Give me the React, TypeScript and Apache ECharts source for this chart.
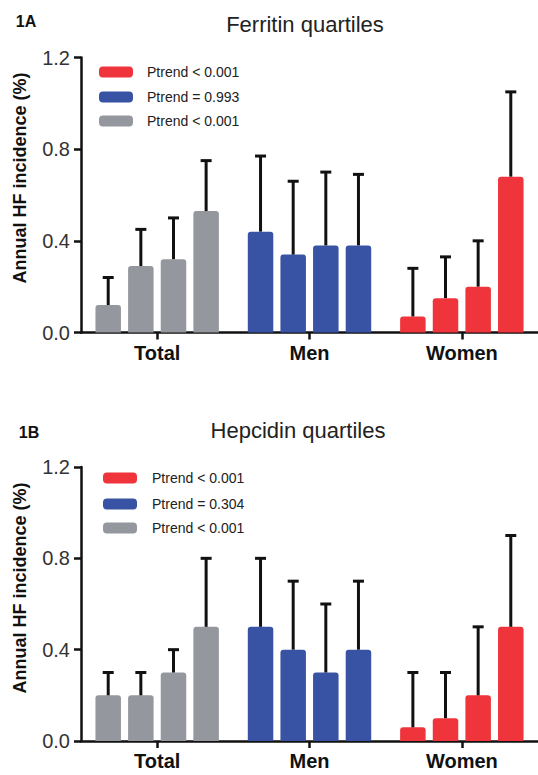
import React, { useEffect, useRef } from "react";
import * as echarts from "echarts";

const categories = ["Total", "Men", "Women"];
const yTicks = [0, 0.4, 0.8, 1.2];

// Ferritin quartiles (Q1..Q4) per group
const ferritinTotal = [0.12, 0.29, 0.32, 0.53];
const ferritinMen = [0.44, 0.34, 0.38, 0.38];
const ferritinWomen = [0.07, 0.15, 0.2, 0.68];
const ferritinTotalUpper = [0.24, 0.45, 0.5, 0.75];
const ferritinMenUpper = [0.77, 0.66, 0.7, 0.69];
const ferritinWomenUpper = [0.28, 0.33, 0.4, 1.05];

// Hepcidin quartiles (Q1..Q4) per group
const hepcidinTotal = [0.2, 0.2, 0.3, 0.5];
const hepcidinMen = [0.5, 0.4, 0.3, 0.4];
const hepcidinWomen = [0.06, 0.1, 0.2, 0.5];
const hepcidinTotalUpper = [0.3, 0.3, 0.4, 0.8];
const hepcidinMenUpper = [0.8, 0.7, 0.6, 0.7];
const hepcidinWomenUpper = [0.3, 0.3, 0.5, 0.9];

const ferritinLegend = ["Ptrend < 0.001", "Ptrend = 0.993", "Ptrend < 0.001"];
const hepcidinLegend = ["Ptrend < 0.001", "Ptrend = 0.304", "Ptrend < 0.001"];

const GRAY = "#95979f";
const BLUE = "#3953a4";
const RED = "#ef343b";
const catColors = [GRAY, BLUE, RED];
const legendColors = [RED, BLUE, GRAY];

const FONT = '"Liberation Sans", Arial, Helvetica, sans-serif';
const BAR_W = 25.5;
const GAP = 0.28;
const PITCH = BAR_W * (1 + GAP);
const CAP = 5.5;
const INK = "#111";

function barSeries(gridIdx: number, byCat: number[][]) {
  const out: any[] = [];
  for (let q = 0; q < 4; q++) {
    out.push({
      type: "bar",
      xAxisIndex: gridIdx,
      yAxisIndex: gridIdx,
      barWidth: BAR_W,
      barGap: GAP * 100 + "%",
      data: categories.map((_, ci) => ({
        value: byCat[ci][q],
        itemStyle: { color: catColors[ci], borderRadius: [3, 3, 0, 0] },
      })),
      z: 2,
    });
  }
  return out;
}

function errorSeries(gridIdx: number, byCat: number[][], upperByCat: number[][]) {
  const data: number[][] = [];
  categories.forEach((_, ci) => {
    for (let q = 0; q < 4; q++) data.push([ci, q, byCat[ci][q], upperByCat[ci][q]]);
  });
  return {
    type: "custom",
    xAxisIndex: gridIdx,
    yAxisIndex: gridIdx,
    encode: { x: 0, y: 3 },
    data,
    z: 5,
    renderItem: (params: any, api: any) => {
      const ci = api.value(0);
      const q = api.value(1);
      const v = api.value(2);
      const u = api.value(3);
      const p0 = api.coord([ci, v]);
      const p1 = api.coord([ci, u]);
      const x = p0[0] + (q - 1.5) * PITCH;
      return {
        type: "group",
        children: [
          {
            type: "line",
            shape: { x1: x, y1: p0[1], x2: x, y2: p1[1] },
            style: { stroke: INK, lineWidth: 3 },
          },
          {
            type: "line",
            shape: { x1: x - CAP, y1: p1[1], x2: x + CAP, y2: p1[1] },
            style: { stroke: INK, lineWidth: 3 },
          },
        ],
      };
    },
  };
}

function xAxis(gridIdx: number) {
  return {
    type: "category",
    gridIndex: gridIdx,
    data: categories,
    axisLine: { show: true, lineStyle: { color: INK, width: 2.5 } },
    axisTick: { show: true, alignWithLabel: true, length: 7, lineStyle: { color: INK, width: 2.5 } },
    axisLabel: { fontFamily: FONT, fontSize: 20, fontWeight: "bold", color: INK, margin: 10 },
  };
}

function yAxis(gridIdx: number) {
  return {
    type: "value",
    gridIndex: gridIdx,
    min: yTicks[0],
    max: yTicks[yTicks.length - 1],
    interval: yTicks[1] - yTicks[0],
    splitLine: { show: false },
    axisLine: { show: true, lineStyle: { color: INK, width: 2.5 } },
    axisTick: { show: true, length: 7, lineStyle: { color: INK, width: 2.5 } },
    axisLabel: {
      fontFamily: FONT,
      fontSize: 20,
      color: "#333",
      margin: 11,
      formatter: (v: number) => v.toFixed(1),
    },
  };
}

function legendGraphics(labels: string[], swX: number, txtX: number, ys: number[]) {
  const els: any[] = [];
  labels.forEach((t, i) => {
    els.push({
      type: "rect",
      shape: { x: swX, y: ys[i] - 5.5, width: 34, height: 11, r: 4 },
      style: { fill: legendColors[i] },
    });
    els.push({
      type: "text",
      x: txtX,
      y: ys[i],
      style: {
        text: t,
        fontFamily: FONT,
        fontSize: 14,
        fill: "#222",
        verticalAlign: "middle",
        align: "left",
      },
    });
  });
  return els;
}

export default function App() {
  const ref = useRef<HTMLDivElement>(null);
  useEffect(() => {
    if (!ref.current) return;
    const chart = echarts.init(ref.current, undefined, { renderer: "svg" });
    const fByCat = [ferritinTotal, ferritinMen, ferritinWomen];
    const fUp = [ferritinTotalUpper, ferritinMenUpper, ferritinWomenUpper];
    const hByCat = [hepcidinTotal, hepcidinMen, hepcidinWomen];
    const hUp = [hepcidinTotalUpper, hepcidinMenUpper, hepcidinWomenUpper];

    const titleStyle = (text: string, x: number, y: number) => ({
      type: "text",
      x,
      y,
      style: { text, fontFamily: FONT, fontSize: 22, fill: "#222", align: "center", verticalAlign: "middle" },
    });
    const panelStyle = (text: string, x: number, y: number) => ({
      type: "text",
      x,
      y,
      style: { text, fontFamily: FONT, fontSize: 16, fontWeight: "bold", fill: "#111", align: "center", verticalAlign: "middle" },
    });
    const yName = (y: number) => ({
      type: "text",
      x: 20,
      y,
      rotation: Math.PI / 2,
      style: {
        text: "Annual HF incidence (%)",
        fontFamily: FONT,
        fontSize: 18,
        fontWeight: "bold",
        fill: "#111",
        align: "center",
        verticalAlign: "middle",
      },
    });

    chart.setOption({
      animation: false,
      backgroundColor: "#ffffff",
      grid: [
        { left: 81, right: -5, top: 57.5, height: 275, containLabel: false },
        { left: 81, right: -1, top: 467, height: 274, containLabel: false },
      ],
      xAxis: [xAxis(0), xAxis(1)],
      yAxis: [yAxis(0), yAxis(1)],
      series: [
        ...barSeries(0, fByCat),
        errorSeries(0, fByCat, fUp),
        ...barSeries(1, hByCat),
        errorSeries(1, hByCat, hUp),
      ],
      graphic: [
        panelStyle("1A", 26, 21),
        titleStyle("Ferritin quartiles", 305, 24),
        yName(178),
        ...legendGraphics(ferritinLegend, 99, 147, [72, 97, 121]),
        panelStyle("1B", 29, 432),
        titleStyle("Hepcidin quartiles", 298, 430),
        yName(588),
        ...legendGraphics(hepcidinLegend, 103, 152, [478, 504, 528]),
      ],
    });
    return () => chart.dispose();
  }, []);
  return (
    <div
      ref={ref}
      style={{ position: "fixed", left: 0, top: 0, width: 538, height: 775, background: "#fff" }}
    />
  );
}
